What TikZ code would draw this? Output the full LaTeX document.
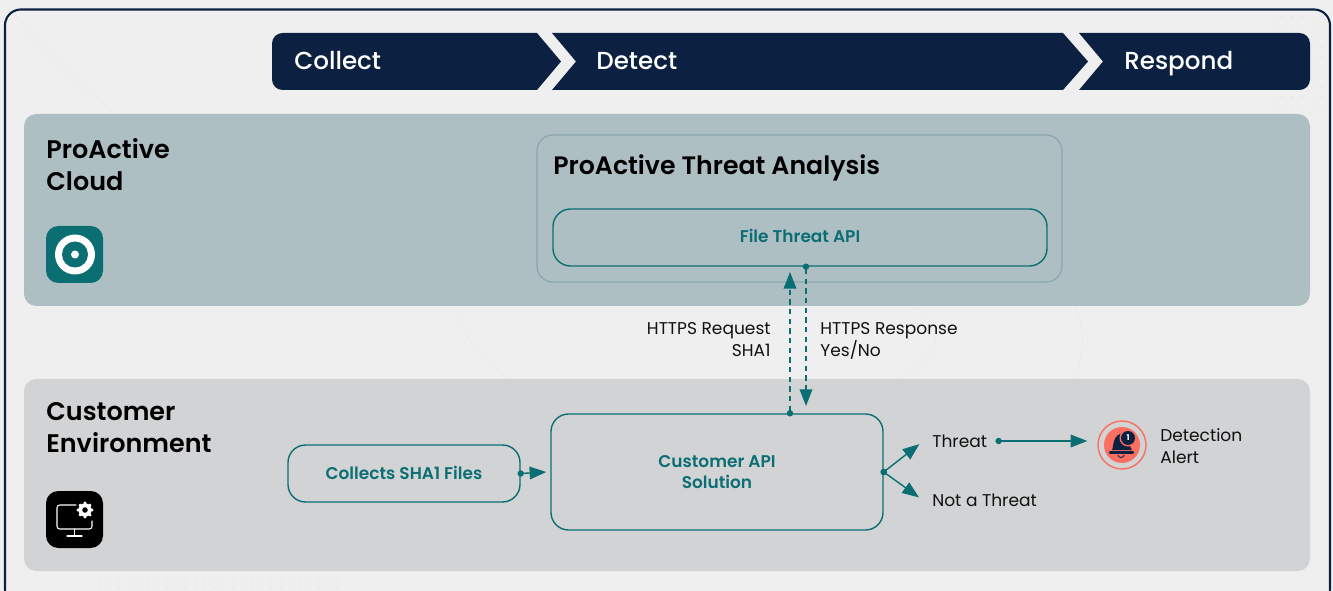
\documentclass[tikz,border=0pt]{standalone}
\usepackage{fontspec}
\setmainfont{Poppins}
\newfontfamily\mediumfont{Poppins Medium}
\newfontfamily\semifont{Poppins SemiBold}
\usetikzlibrary{arrows.meta}
\definecolor{navybar}{HTML}{0C2142}
\definecolor{tealline}{HTML}{0B6E73}
\definecolor{pagebg}{HTML}{EFEFEF}
\definecolor{cloudbg}{HTML}{AEBFC4}
\definecolor{custbg}{HTML}{D1D3D5}
\definecolor{analysisline}{HTML}{8AA5AE}
\definecolor{coral}{HTML}{FB6F61}
\definecolor{labelink}{HTML}{111111}
\definecolor{faintmark}{HTML}{EAEAEA}
\tikzset{
  zone/.style={rounded corners=7pt,fill=#1},
  apibox/.style={draw=tealline,line width=0.8pt,rounded corners=10pt,text=tealline,font=\fontsize{9.65}{12}\selectfont\semifont,align=center,inner sep=0pt},
  phase/.style={text=white,font=\fontsize{14}{17}\selectfont\mediumfont,anchor=base west,inner sep=0pt},
  zonetitle/.style={font=\fontsize{14.5}{18.5}\selectfont\semifont,text=black,anchor=north west,align=left,inner sep=0pt},
  flowlabel/.style={font=\fontsize{9.7}{12.5}\selectfont,text=labelink,inner sep=0pt},
  flow/.style={draw=tealline,line width=0.8pt,shorten <=-1.8pt,{Circle[length=3.6pt]}-{Triangle[length=9.5pt,width=7.2pt]}},
  flowdash/.style={flow,line cap=butt,dash pattern=on 3pt off 2.5pt},
}
\begin{document}
\begin{tikzpicture}[line cap=round,line join=round,x=0.02cm,y=-0.02cm]
\useasboundingbox (0,0) rectangle (1333,591);
\clip (0,0) rectangle (1333,591);
\fill[pagebg] (0,0) rectangle (1333,591);
% faint backdrop
\foreach \dotx in {100,109.5,...,340} \foreach \doty in {579,588}
  \fill[faintmark] (\dotx,\doty) circle (1.5);
\foreach \dotx in {1272,1282,...,1322} \foreach \doty in {17,27,...,107}
  \fill[faintmark] (\dotx,\doty) circle (1.5);
\draw[faintmark,line width=0.3pt] (15,15) .. controls (60,70) and (110,110) .. (160,150);
\draw[faintmark,line width=0.3pt] (455,306) .. controls (465,340) and (480,360) .. (510,379);
\draw[faintmark,line width=0.3pt] (900,379) .. controls (945,350) and (945,330) .. (915,306);
\draw[faintmark,line width=0.3pt] (1075,379) .. controls (1085,350) and (1085,330) .. (1075,306);
\draw[navybar,line width=1.2pt,rounded corners=9pt] (5,9.5) rectangle (1330,605);
% phase bars
\fill[navybar] (300,33) -- (537,33) -- (561,61.5) -- (537,90) -- (300,90) [rounded corners=6pt] -- (272,90) -- (272,33) -- cycle;
\fill[navybar] (552,33) -- (1063,33) -- (1088,61.5) -- (1063,90) -- (552,90) -- (576,61.5) -- cycle;
\fill[navybar] (1103,61.5) -- (1079,33) -- (1280,33) [rounded corners=6pt] -- (1310,33) -- (1310,90) [sharp corners] -- (1079,90) -- cycle;
\node[phase] (collect) at (294,70) {Collect};
\node[phase] (detect) at (596,70) {Detect};
\node[phase] (respond) at (1124,70) {Respond};
% zones
\fill[zone=cloudbg] (24,114) rectangle (1310,306);
\fill[zone=custbg] (24,379) rectangle (1310,571);
\node[zonetitle] (cloudtitle) at (46,138) {ProActive\\Cloud};
\node[zonetitle] (custtitle) at (46,402) {Customer\\Environment};
% cloud icon
\fill[tealline,rounded corners=7pt] (46,226) rectangle (103,283);
\fill[white] (75,254.5) circle (20);
\fill[tealline] (75,254.5) circle (13);
\fill[white] (75,254.5) circle (4);
% customer icon
\fill[black,rounded corners=7pt] (46,491) rectangle (103,548);
\draw[white,line width=0.6pt,rounded corners=1.5pt] (76,505) -- (57,505) -- (57,529) -- (92,529) -- (92,521);
\draw[white,line width=0.6pt] (74.5,529) -- (74.5,536) (67,536) -- (82,536);
\draw[white,line width=2.2pt] (85,510) circle (5);
\foreach \a in {0,45,...,315}
  \fill[white] (85,510) ++(\a:7) circle (1.6);
% boxes
\draw[analysisline,line width=0.7pt,rounded corners=9pt] (537,135) rectangle (1062,282);
\node[font=\fontsize{14.35}{18}\selectfont\semifont,text=black,anchor=west,inner sep=0pt] (analysis) at (553,168) {ProActive Threat Analysis};
\node[apibox,minimum width=494*0.02cm,minimum height=57*0.02cm] (fileapi) at (800,237.5) {\raisebox{1.4pt}{File Threat API}};
\node[apibox,minimum width=232*0.02cm,minimum height=57*0.02cm] (sha1files) at (404,473.5) {\raisebox{0.5pt}{Collects SHA1 Files}};
\node[apibox,minimum width=332*0.02cm,minimum height=116*0.02cm] (solution) at (717,472) {Customer API\\Solution};
% labels
\node[flowlabel,anchor=north east,align=right] (reqlabel) at (771,322) {HTTPS Request\\SHA1};
\node[flowlabel,anchor=north west,align=left] (resplabel) at (820,322) {HTTPS Response\\Yes/No};
\node[flowlabel,anchor=west] (threat) at (932,441) {Threat};
\node[flowlabel,anchor=west] (notthreat) at (932,500) {Not a Threat};
\node[flowlabel,anchor=west,align=left] (detectlabel) at (1160,446) {Detection\\Alert};
% alert icon
\node[circle,draw=coral,line width=0.8pt,minimum size=48*0.02cm,inner sep=0pt] (alert) at (1122,445) {};
\fill[coral] (alert.center) circle (18);
\fill[navybar] (1112,450) .. controls (1114,446) and (1112,435) .. (1123,433) -- (1132,450) -- cycle;
\draw[navybar,line width=1.2pt] (1110,452.5) -- (1133,452.5);
\draw[navybar,line width=0.5pt] (1118,455) arc (180:360:3 and -2.5);
\fill[coral] (1128,438) circle (8.5);
\node[circle,fill=navybar,text=white,inner sep=0pt,minimum size=14*0.02cm,font=\fontsize{4.5}{5}\selectfont\bfseries] (badge) at (1128,438) {1};
% connectors
\coordinate (reqend) at (790,272);
\coordinate (respend) at (806,406);
\draw[flowdash] (solution.north -| reqend) -- (reqend);
\draw[flowdash] (fileapi.south -| respend) -- (respend);
\draw[flow] (sha1files.east) -- ([xshift=-4*0.02cm]solution.west);
\draw[flow,shorten >=16*0.02cm] (solution.east) -- (threat.north west);
\draw[flow,shorten >=16*0.02cm] (solution.east) -- (notthreat.south west);
\draw[flow,shorten <=8*0.02cm,shorten >=10*0.02cm] (threat.east) -- (alert.west |- threat.east);
\end{tikzpicture}
\end{document}
